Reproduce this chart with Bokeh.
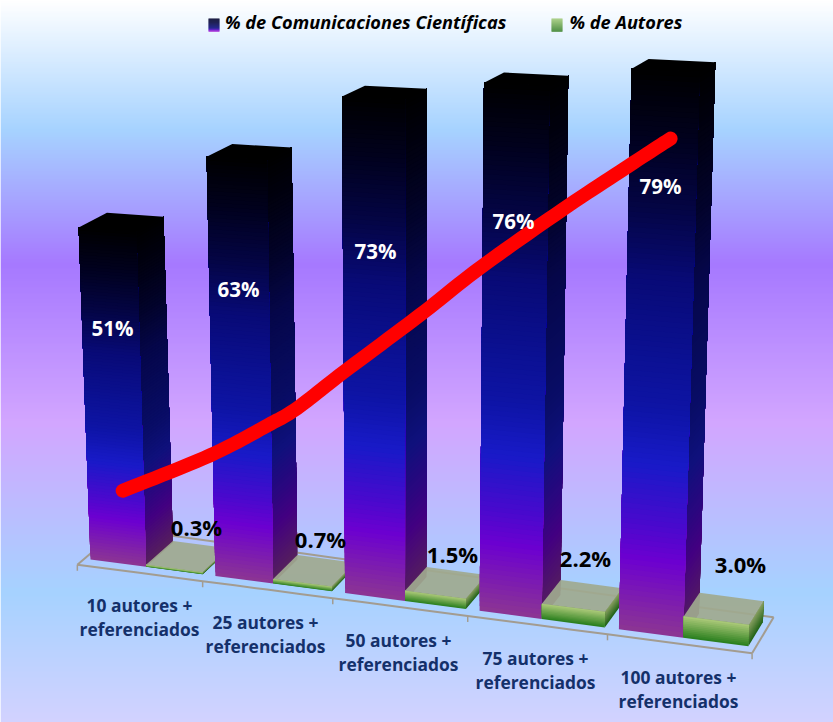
from bokeh.plotting import figure
from bokeh.models import Range1d
from bokeh.core.properties import value
from bokeh.embed import file_html
from bokeh.resources import INLINE

categories = ["10 autores +\nreferenciados", "25 autores +\nreferenciados", "50 autores +\nreferenciados",
              "75 autores +\nreferenciados", "100 autores +\nreferenciados"]
pct_comunicaciones = [51, 63, 73, 76, 79]
pct_autores = [0.3, 0.7, 1.5, 2.2, 3.0]
# hand-drawn red trend: position along the category axis, height in chart units
trend_pos = [0.28, 0.98, 1.425, 1.65, 2.0, 2.555, 2.98, 3.55, 4.0, 4.27]
trend_val = [11.2, 18.1, 23.5, 26.5, 32.5, 41.8, 49.3, 58.5, 65.4, 69.5]
series_names = ["% de Comunicaciones Científicas", "% de Autores"]

W, H = 833, 722
FONT = "Open Sans"


def project(u, v, d):
    """Perspective view of the 3-D chart: category position, value, depth -> page position."""
    x0 = 90 + 122.5 * u + 2.4 * u * u
    y0 = 559 + 0.132 * (x0 - 90)
    h = v * (6.51 + 0.146 * u)
    x1 = 401 + (x0 - 401) * (1 + 0.000745 * v)
    y1 = y0 - h
    return x1 + d * (28 - 0.0205 * (x1 - 90)), y1 - d * (24 - 0.18 * v)


def mix(stops, t, k=1.0):
    for (t0, c0), (t1, c1) in zip(stops, stops[1:]):
        if t <= t1:
            f = (t - t0) / (t1 - t0) if t1 > t0 else 0
            return "#%02x%02x%02x" % tuple(int(round((a + (b - a) * f) * k)) for a, b in zip(c0, c1))
    return "#%02x%02x%02x" % tuple(int(c * k) for c in stops[-1][1])


def smooth(pts, n=12):
    """Catmull-Rom drawing of a line through the given points."""
    out = []
    q = [pts[0]] + list(pts) + [pts[-1]]
    for i in range(1, len(q) - 2):
        p0, p1, p2, p3 = q[i - 1], q[i], q[i + 1], q[i + 2]
        for j in range(n):
            t = j / n
            out.append(tuple(0.5 * (2 * b + (c - a) * t + (2 * a - 5 * b + 4 * c - d) * t * t
                                    + (3 * b - a - 3 * c + d) * t ** 3)
                             for a, b, c, d in zip(p0, p1, p2, p3)))
    out.append(pts[-1])
    return out


BG = [(0.0, (255, 255, 255)), (0.18, (153, 204, 255)), (0.365, (153, 102, 255)),
      (0.585, (204, 153, 255)), (0.82, (153, 204, 255)), (1.0, (204, 204, 255))]
BLUE = [(0.0, (140, 54, 146)), (0.13, (108, 0, 208)), (0.2, (70, 10, 205)), (0.3, (24, 26, 200)),
        (0.4, (14, 20, 165)), (0.5, (11, 16, 145)), (0.63, (8, 10, 118)), (0.75, (4, 5, 70)),
        (0.88, (1, 1, 30)), (1.0, (0, 0, 0))]
GREEN = [(0.0, (38, 125, 28)), (0.45, (100, 160, 70)), (1.0, (172, 202, 122))]

p = figure(width=W, height=H, output_backend="svg", toolbar_location=None,
           x_range=Range1d(0, W), y_range=Range1d(H, 0), min_border=0)
p.axis.visible = False
p.grid.visible = False
p.outline_line_color = None
p.border_fill_color = None
p.background_fill_color = None

# background
ys = list(range(0, H))
p.quad(left=0, right=W, top=ys, bottom=[y + 1.3 for y in ys],
       fill_color=[mix(BG, (y + 0.5) / H) for y in ys], line_color=None)


def face(corner_fn, v, stops, k, n):
    # painted from the foot upward, each strip reaching the top, so no seams show
    xs, yy, cs = [], [], []
    for i in range(n):
        t0, t1 = i / n, (i + 1) / n
        a = corner_fn(0, v * t0)
        b = corner_fn(1, v * t0)
        c = corner_fn(1, v)
        d = corner_fn(0, v)
        xs.append([a[0], b[0], c[0], d[0]])
        yy.append([a[1], b[1], c[1], d[1]])
        cs.append(mix(stops, (t0 + t1) / 2, k))
    p.patches(xs, yy, fill_color=cs, line_color=None)


def box(u0, u1, v, stops, side_k, n, top_color=None, top_alpha=1.0):
    face(lambda s, w: project(u1, w, s), v, stops, side_k, n)
    face(lambda s, w: project(u0 + (u1 - u0) * s, w, 0), v, stops, 1.0, n)
    corners = [project(u0, v, 0), project(u1, v, 0), project(u1, v, 1), project(u0, v, 1)]
    p.patch([c[0] for c in corners], [c[1] for c in corners], fill_color=top_color,
            fill_alpha=top_alpha, line_color=None)


# floor
AX = "#a39c90"
N = len(categories)
floor_front = [project(i / 4 - 0.05, 0, -0.25) for i in range(4 * N + 1)]
floor_back = [project(i / 4 - 0.05, 0, 1.25) for i in range(4 * N + 1)]
p.line([c[0] for c in floor_front], [c[1] for c in floor_front], line_color=AX, line_width=2)
p.line([c[0] for c in floor_back], [c[1] for c in floor_back], line_color=AX, line_width=2)
for end in (0, -1):
    p.line([floor_front[end][0], floor_back[end][0]], [floor_front[end][1], floor_back[end][1]],
           line_color=AX, line_width=2)
for i in range(N + 1):
    x, y = project(i - 0.05, 0, -0.25)
    p.line([x, x], [y, y + 6], line_color=AX, line_width=1.5)

# bars
for k in range(N):
    box(k, k + 0.45, pct_comunicaciones[k], BLUE, 0.62, 110, top_color="#000000")
    box(k + 0.45, k + 0.9, pct_autores[k], GREEN, 0.78, 12, top_color="#9fa98f", top_alpha=0.92)

# trend
tr = smooth([project(u, v, 0) for u, v in zip(trend_pos, trend_val)])
p.line([c[0] for c in tr], [c[1] for c in tr], line_color="#ff0000", line_width=14,
       line_cap="round", line_join="round")

# value labels
blue_lab_x = [112, 238, 375, 513, 660]
blue_lab_y = [327, 288, 250, 220, 185]
p.text(blue_lab_x, blue_lab_y, text=["%d%%" % v for v in pct_comunicaciones], text_color="#ffffff",
       text_font=value(FONT), text_font_style="bold", text_font_size="20.5px",
       text_align="center", text_baseline="middle")
green_lab_x = [196, 320, 452, 585, 740]
green_lab_y = [526, 538, 553, 557, 563]
p.text(green_lab_x, green_lab_y, text=["%.1f%%" % v for v in pct_autores], text_color="#000000",
       text_font=value(FONT), text_font_style="bold", text_font_size="22px",
       text_align="center", text_baseline="middle")

# category labels
cat_x = [139, 265, 398, 535, 678]
cat_y = [616, 633, 651, 669, 688]
p.text(cat_x, cat_y, text=categories, text_color="#14306a", text_font=value(FONT),
       text_font_style="bold", text_font_size="17.4px", text_align="center", text_baseline="middle",
       text_line_height=1.0)

# legend
swatch_x = [208, 551]
text_x = [224.5, 569]
for sx, stops, name, tx in zip(swatch_x, [[(0.0, (200, 60, 220)), (0.12, (90, 0, 200)), (0.25, (10, 10, 130)), (0.7, (2, 2, 60)), (1.0, (0, 0, 40))],
                                          [(0.0, (60, 130, 45)), (1.0, (165, 205, 125))]],
                               series_names, text_x):
    n = 13
    p.quad(left=sx, right=sx + 11, top=[18 + i for i in range(n)], bottom=[19.2 + i for i in range(n)],
           fill_color=[mix(stops, 1 - (i + 0.5) / n) for i in range(n)], line_color=None)
    p.text([tx], [21], text=[name], text_color="#000000", text_font=value(FONT),
           text_font_style="bold italic", text_font_size="18.2px", text_align="left", text_baseline="middle")

open("out.html", "w").write(file_html(p, INLINE))
